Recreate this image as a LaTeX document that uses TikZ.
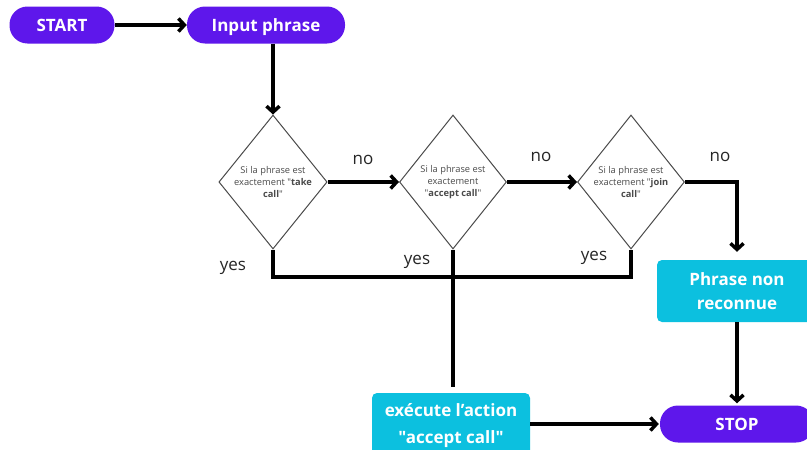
\documentclass[tikz,border=0pt]{standalone}
\usepackage{fontspec}
\setmainfont{Open Sans}[Ligatures=TeXOff]
\newfontfamily\dfont{Open Sans}[Ligatures=TeXOff]
\usetikzlibrary{arrows.meta,shapes.geometric}
\definecolor{pur}{HTML}{5E17EB}
\definecolor{cya}{HTML}{0CC0DF}
\definecolor{dgray}{HTML}{4A4A4A}
\begin{document}
\begin{tikzpicture}[x=1pt,y=-1pt,
  pill/.style={fill=pur,text=white,rounded corners=18pt,minimum height=37pt,inner sep=0pt,
    text height=12.2pt,text depth=0pt,font=\bfseries\fontsize{17}{20}\selectfont},
  cbox/.style={fill=cya,text=white,rounded corners=5pt,inner sep=0pt,align=center,
    font=\bfseries\fontsize{17}{24}\selectfont},
  dia/.style={diamond,draw=dgray,line width=1pt,minimum width=107pt,minimum height=134pt,
    inner sep=0pt,align=center,text=dgray,font=\dfont\fontsize{9.3}{11.7}\selectfont},
  conn/.style={line width=3.5pt},
  arr/.style={line width=3.5pt,-{Straight Barb[length=6pt,width=13pt]}},
  lbl/.style={font=\fontsize{17}{20}\selectfont,text=black!85}]
\clip (0,0) rectangle (807,450);
\fill[white] (0,0) rectangle (807,450);

\node[pill,minimum width=105pt] (start) at (62,25) {START};
\node[pill,minimum width=158pt] (input) at (266,25) {Input phrase};

\node[dia] (d1) at (273,182) {Si la phrase est\\exactement "\textbf{take}\\\textbf{call}"};
\node[dia] (d2) at (453,182) {Si la phrase est\\exactement\\"\textbf{accept call}"};
\node[dia] (d3) at (631,182) {Si la phrase est\\exactement "\textbf{join}\\\textbf{call}"};

\node[cbox,minimum width=160pt,minimum height=62pt,font=\bfseries\fontsize{17}{24}\selectfont] (phrase) at (737,291) {Phrase non\\reconnue};
\node[pill,minimum width=154pt] (stop) at (737,424) {STOP};
\node[cbox,minimum width=158pt,minimum height=66pt,font=\bfseries\fontsize{17}{27}\selectfont] (act) at (451,426) {exécute l’action\\"accept call"};

\draw[arr] (start.east) -- (input.west);
\draw[arr] (d1.north |- input.south) -- (d1.north);
\draw[arr] (d1.east) -- (d2.west);
\draw[arr] (d2.east) -- (d3.west);
\draw[arr,shorten >=8pt] (d3.east) -| (phrase.north);
\draw[arr,shorten >=2pt] (phrase.south) -- (stop.north);
\draw[arr,shorten >=1pt] (act.east |- stop.west) -- (stop.west);
\coordinate (yl) at (0,277);
\draw[conn] (d1.south) -- (d1.south |- yl) -| (d3.south);
\draw[conn,shorten >=6pt] (d2.south) -- (d2.south |- act.north);

\node[lbl] (no1) at (363,160) {no};
\node[lbl] (no2) at (541,157) {no};
\node[lbl] (no3) at (720,157) {no};
\node[lbl] (y1) at (233,268) {yes};
\node[lbl] (y2) at (417,262) {yes};
\node[lbl] (y3) at (594,258) {yes};
\end{tikzpicture}
\end{document}
